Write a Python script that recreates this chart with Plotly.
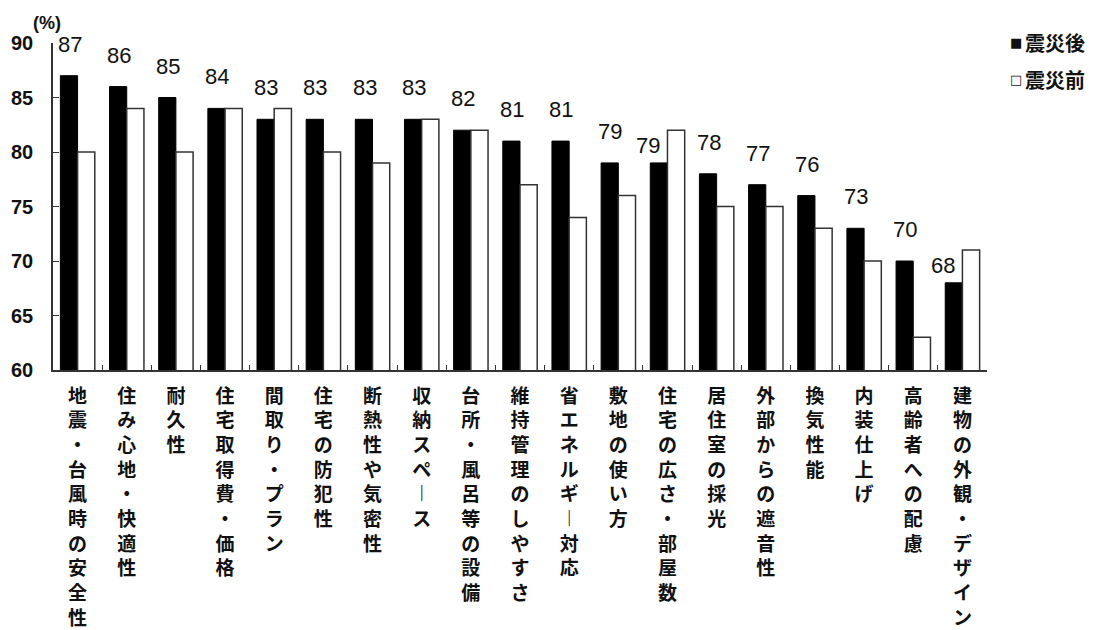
import plotly.graph_objects as go

categories = ["地震・台風時の安全性", "住み心地・快適性", "耐久性", "住宅取得費・価格", "間取り・プラン",
              "住宅の防犯性", "断熱性や気密性", "収納スペース", "台所・風呂等の設備", "維持管理のしやすさ",
              "省エネルギー対応", "敷地の使い方", "住宅の広さ・部屋数", "居住室の採光", "外部からの遮音性",
              "換気性能", "内装仕上げ", "高齢者への配慮", "建物の外観・デザイン"]
after_values = [87, 86, 85, 84, 83, 83, 83, 83, 82, 81, 81, 79, 79, 78, 77, 76, 73, 70, 68]
before_values = [80, 84, 80, 84, 84, 80, 79, 83, 82, 77, 74, 76, 82, 75, 75, 73, 70, 63, 71]
series_names = ["震災後", "震災前"]
legend_marks = ["■", "□"]
y_ticks = [60, 65, 70, 75, 80, 85, 90]


def vertical(label):
    # stack characters vertically; long vowel mark rendered in vertical form
    chars = [("︱" if c == "ー" else c) for c in label]
    return "<br>".join(chars)


tick_text = [vertical(c) for c in categories]

fig = go.Figure()
fig.add_trace(go.Bar(x=categories, y=after_values, name=series_names[0], showlegend=False,
                     marker=dict(color="#000000", line=dict(color="#000000", width=1))))
fig.add_trace(go.Bar(x=categories, y=before_values, name=series_names[1], showlegend=False,
                     marker=dict(color="#ffffff", line=dict(color="#333333", width=1.5))))

for cat, a, b in zip(categories, after_values, before_values):
    crowded = (b - a) >= 2
    fig.add_annotation(x=cat, y=a, text=str(a), showarrow=False,
                       xref="x", yref="y", yanchor="bottom", xanchor="center",
                       xshift=-19 if crowded else -8, yshift=3 if crowded else 17,
                       font=dict(family="Liberation Sans, Arial", size=22, color="#111111"))

# legend drawn as text items (square glyph + series name)
for i, (mark, name) in enumerate(zip(legend_marks, series_names)):
    ypos = 1.003 - i * 0.116
    fig.add_annotation(text=mark, xref="paper", yref="paper", x=1.031, y=ypos,
                       xanchor="center", yanchor="middle", showarrow=False,
                       font=dict(family="DejaVu Sans", size=13, color="#111111"))
    fig.add_annotation(text=name, xref="paper", yref="paper", x=1.0385, y=ypos,
                       xanchor="left", yanchor="middle", showarrow=False,
                       font=dict(family="Noto Sans CJK JP", size=20, color="#111111", weight="bold"))

fig.add_annotation(text="(%)", xref="paper", yref="paper", x=0, y=1, xanchor="center",
                   yanchor="bottom", xshift=-6, yshift=8, showarrow=False,
                   font=dict(family="Liberation Sans, Arial", size=18, color="#111111", weight="bold"))

fig.update_layout(
    width=1102, height=630,
    margin=dict(l=53, r=115, t=43, b=260, autoexpand=False),
    paper_bgcolor="white", plot_bgcolor="white",
    barmode="group", bargap=0.3, bargroupgap=0,
    font=dict(family="Noto Sans CJK JP", color="#111111"),
    showlegend=False,
    xaxis=dict(tickmode="array", tickvals=categories, ticktext=tick_text, automargin=False,
               tickangle=0, showline=True, linecolor="#333333", linewidth=1.5,
               ticks="inside", ticklen=5, tickcolor="#333333", tickson="boundaries",
               ticklabelstandoff=8,
               tickfont=dict(family="Noto Sans CJK JP", size=19, color="#111111", weight="bold"),
               showgrid=False),
    yaxis=dict(range=[60, 90], tickvals=y_ticks, showline=True, linecolor="#333333", linewidth=1.5,
               automargin=False,
               ticks="inside", ticklen=6, tickcolor="#333333", showgrid=False, zeroline=False,
               ticklabelstandoff=14,
               tickfont=dict(family="Liberation Sans, Arial", size=20, color="#111111", weight="bold")),
)

fig.write_html("out.html")
